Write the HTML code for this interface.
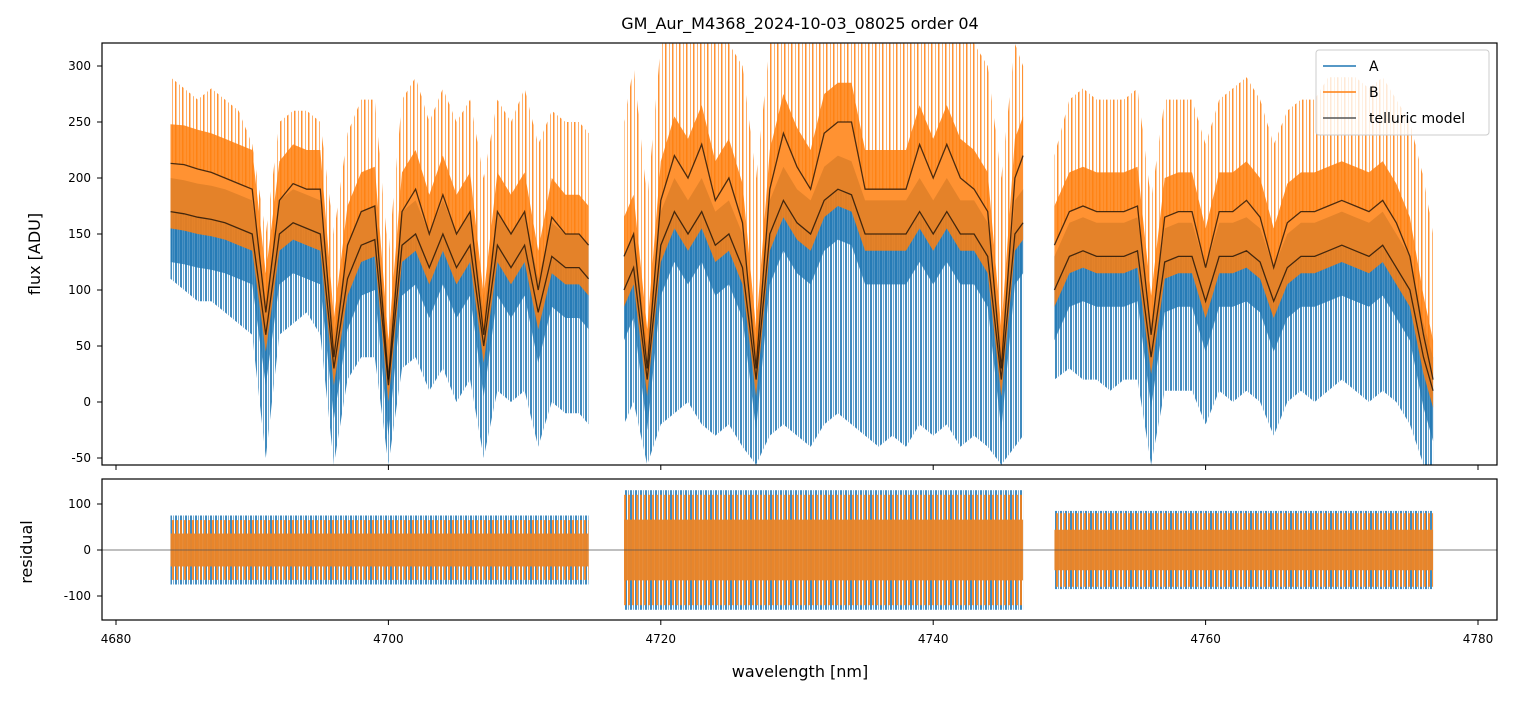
<!DOCTYPE html>
<html><head><meta charset="utf-8"><style>
body{margin:0;background:#fff;font-family:"Liberation Sans","DejaVu Sans",sans-serif}
svg text{font-family:"DejaVu Sans","Liberation Sans",sans-serif}
</style></head><body>
<svg id="chart" width="1514" height="696" xmlns="http://www.w3.org/2000/svg">
<defs>
<clipPath id="cm"><rect x="102" y="43" width="1395" height="422"/></clipPath>
<clipPath id="cr"><rect x="102" y="479" width="1395" height="141"/></clipPath>
<pattern id="pb" width="5" height="400" patternUnits="userSpaceOnUse"><rect x="0" y="0" width="2" height="400" fill="#1f77b4" fill-opacity="0.85"/><rect x="3" y="0" width="1" height="400" fill="#1f77b4" fill-opacity="0.6"/></pattern>
<pattern id="po" width="4" height="400" patternUnits="userSpaceOnUse"><rect x="0" y="0" width="2" height="400" fill="#ff7f0e" fill-opacity="0.85"/></pattern>
<pattern id="po2" width="7" height="400" patternUnits="userSpaceOnUse"><rect x="0" y="0" width="1.5" height="400" fill="#ff7f0e" fill-opacity="0.85"/><rect x="4" y="0" width="1" height="400" fill="#ff7f0e" fill-opacity="0.6"/></pattern>
</defs>
<text x="800" y="29" text-anchor="middle" font-size="16">GM_Aur_M4368_2024-10-03_08025  order 04</text>
<g id="main" clip-path="url(#cm)"></g>
<g id="resid" clip-path="url(#cr)"></g>
<g id="axes"></g>
<rect x="102" y="43" width="1395" height="422" fill="none" stroke="#000" stroke-width="1.2"/>
<rect x="102" y="479" width="1395" height="141" fill="none" stroke="#000" stroke-width="1.2"/>
<text x="40" y="254" text-anchor="middle" font-size="16" transform="rotate(-90 40 254)">flux [ADU]</text>
<text x="32" y="552" text-anchor="middle" font-size="16" transform="rotate(-90 32 552)">residual</text>
<text x="800" y="677" text-anchor="middle" font-size="16">wavelength [nm]</text>
<g>
<rect x="1316" y="50" width="173" height="85" rx="3" fill="#fff" fill-opacity="0.8" stroke="#ccc"/>
<line x1="1323" y1="66" x2="1356" y2="66" stroke="#1f77b4" stroke-width="1.5"/>
<text x="1369" y="71" font-size="14">A</text>
<line x1="1323" y1="92" x2="1356" y2="92" stroke="#ff7f0e" stroke-width="1.5"/>
<text x="1369" y="97" font-size="14">B</text>
<line x1="1323" y1="118" x2="1356" y2="118" stroke="#555" stroke-width="1.5"/>
<text x="1369" y="123" font-size="14">telluric model</text>
</g>
</svg>
<script>
const wl1=[4684,4685,4686,4687,4688,4689,4690,4691,4692,4693,4694,4695,4696,4697,4698,4699,4700,4701,4702,4703,4704,4705,4706,4707,4708,4709,4710,4711,4712,4713,4714,4714.7];
const modelB1=[213,212,208,205,200,195,190,80,180,195,190,190,40,140,170,175,20,170,190,150,185,150,170,60,170,150,170,100,165,150,150,140];
const modelA1=[170,168,165,163,160,155,150,60,150,160,155,150,30,110,140,145,15,140,150,120,150,120,140,50,140,120,140,80,130,120,120,110];
const hi1=[290,280,270,280,270,260,230,150,250,260,260,250,150,240,270,270,130,270,290,250,280,250,270,200,270,250,280,230,260,250,250,240];
const lo1=[110,100,90,90,80,70,60,-50,60,70,80,60,-56,20,40,40,-56,30,40,10,30,0,20,-50,10,0,10,-40,0,-10,-10,-20];
const wl2=[4717.3,4718,4719,4720,4721,4722,4723,4724,4725,4726,4727,4728,4729,4730,4731,4732,4733,4734,4735,4736,4737,4738,4739,4740,4741,4742,4743,4744,4745,4746,4746.6];
const modelB2=[130,150,30,180,220,200,230,180,200,160,30,190,240,210,190,240,250,250,190,190,190,190,230,200,230,200,190,170,30,200,220];
const modelA2=[100,120,20,140,170,150,170,140,150,120,20,150,180,160,150,180,190,185,150,150,150,150,170,150,170,150,150,130,20,150,160];
const hi2=[250,300,180,320,320,320,320,320,320,300,200,320,320,320,320,320,320,320,320,320,320,320,320,320,320,320,320,300,200,320,300];
const lo2=[-20,0,-56,-20,-10,0,-20,-30,-20,-40,-56,-30,-20,-30,-40,-20,-10,-20,-30,-40,-30,-40,-20,-30,-20,-40,-30,-40,-56,-40,-30];
const wl3=[4748.9,4750,4751,4752,4753,4754,4755,4756,4757,4758,4759,4760,4761,4762,4763,4764,4765,4766,4767,4768,4769,4770,4771,4772,4773,4774,4775,4776,4776.7];
const modelB3=[140,170,175,170,170,170,175,60,165,170,170,120,170,170,180,165,120,160,170,170,175,180,175,170,180,160,130,60,20];
const modelA3=[100,130,135,130,130,130,135,40,125,130,130,90,130,130,135,125,90,120,130,130,135,140,135,130,140,120,100,40,10];
const hi3=[220,270,280,270,270,270,280,180,270,270,270,230,270,280,290,270,230,260,270,270,290,290,290,280,290,270,250,200,150];
const lo3=[20,30,20,20,10,20,20,-56,10,10,10,-20,10,0,10,0,-30,0,10,0,10,20,10,0,10,0,-20,-56,-56];
const resAmpA=[75,130,85];
const resAmpB=[65,120,80];
const xTicks=[4680,4700,4720,4740,4760,4780];
const yTicks=[-50,0,50,100,150,200,250,300];
const rTicks=[-100,0,100];

const NS="http://www.w3.org/2000/svg";
const X=v=>116+(v-4680)*13.62;
const Y=v=>402-v*1.12;
const R=v=>550-v*0.46;
function mk(tag,attrs,parent){const e=document.createElementNS(NS,tag);for(const k in attrs)e.setAttribute(k,attrs[k]);parent.appendChild(e);return e;}
const main=document.getElementById('main'),resid=document.getElementById('resid'),axes=document.getElementById('axes');
function band(wl,up,dn,fy){let p=wl.map((w,i)=>X(w).toFixed(1)+','+fy(up[i]).toFixed(1));for(let i=wl.length-1;i>=0;i--)p.push(X(wl[i]).toFixed(1)+','+fy(dn[i]).toFixed(1));return p.join(' ');}
function line(wl,v,fy){return wl.map((w,i)=>X(w).toFixed(1)+','+fy(v[i]).toFixed(1)).join(' ');}
const segs=[[wl1,modelB1,modelA1,hi1,lo1],[wl2,modelB2,modelA2,hi2,lo2],[wl3,modelB3,modelA3,hi3,lo3]];
segs.forEach((s,k)=>{
 const [wl,mb,ma,hi,lo]=s;
 const blueS=mk('polygon',{points:band(wl,ma,lo,Y),fill:'url(#pb)'},main);
 
 
 const blue=mk('polygon',{points:band(wl,ma.map(v=>v+30),ma.map(v=>v-45),Y),fill:'#1f77b4','fill-opacity':0.8},main);
 
 
 const orS=mk('polygon',{points:band(wl,hi,mb,Y),fill:'url(#po2)'},main);
 
 
 const or=mk('polygon',{points:band(wl,mb.map(v=>v+35),ma.map(v=>v-15),Y),fill:'#ff7f0e','fill-opacity':0.85},main);
 
 
 const l1=mk('polyline',{points:line(wl,mb,Y),fill:'none',stroke:'#000','stroke-opacity':0.7,'stroke-width':1.3},main);
 
 
 const l2=mk('polyline',{points:line(wl,ma,Y),fill:'none',stroke:'#000','stroke-opacity':0.7,'stroke-width':1.3},main);
 
 
 const w0=wl[0],w1=wl[wl.length-1];
 const ra=mk('rect',{x:X(w0),y:R(resAmpA[k]),width:X(w1)-X(w0),height:R(-resAmpA[k])-R(resAmpA[k]),fill:'url(#pb)'},resid);
 
 
 const rb=mk('rect',{x:X(w0),y:R(resAmpB[k]),width:X(w1)-X(w0),height:R(-resAmpB[k])-R(resAmpB[k]),fill:'url(#po)'},resid);
 
 
 const rc=mk('rect',{x:X(w0),y:R(resAmpB[k]*0.55),width:X(w1)-X(w0),height:R(-resAmpB[k]*0.55)-R(resAmpB[k]*0.55),fill:'#e8852a','fill-opacity':0.95},resid);
 
 
});
const z=mk('line',{x1:102,x2:1497,y1:R(0),y2:R(0),stroke:'#555','stroke-width':0.8},resid);


xTicks.forEach(t=>{
 const a=mk('line',{x1:X(t),x2:X(t),y1:465,y2:470,stroke:'#000'},axes);
 
 
 const b=mk('line',{x1:X(t),x2:X(t),y1:620,y2:625,stroke:'#000'},axes);
 
 
 const tx=mk('text',{x:X(t),y:643,'text-anchor':'middle','font-size':12},axes);
 tx.textContent=t;
 
 
});
yTicks.forEach(t=>{
 const a=mk('line',{x1:97,x2:102,y1:Y(t),y2:Y(t),stroke:'#000'},axes);
 
 
 const tx=mk('text',{x:91,y:Y(t)+4,'text-anchor':'end','font-size':12},axes);
 tx.textContent=t;
 
 
});
rTicks.forEach(t=>{
 const a=mk('line',{x1:97,x2:102,y1:R(t),y2:R(t),stroke:'#000'},axes);
 
 
 const tx=mk('text',{x:91,y:R(t)+4,'text-anchor':'end','font-size':12},axes);
 tx.textContent=t;
 
 
});
</script>
</body></html>
